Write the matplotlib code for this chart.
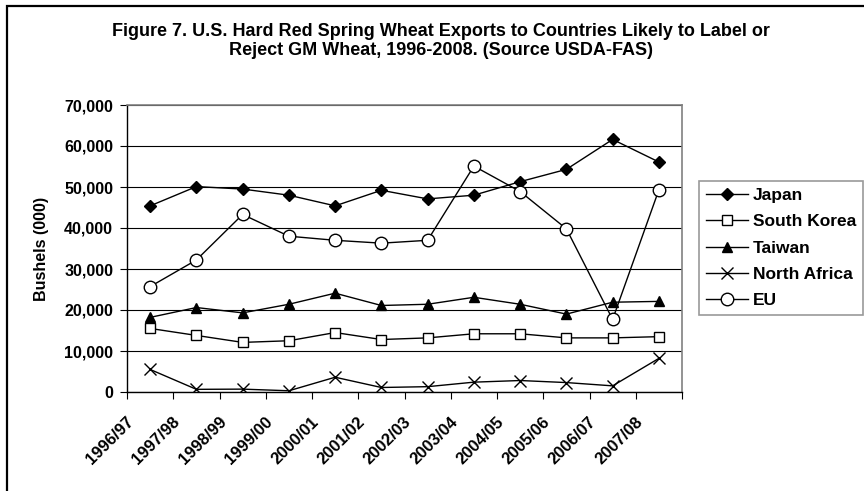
import matplotlib
matplotlib.use("Agg")
import matplotlib.pyplot as plt
from matplotlib.patches import Rectangle
from matplotlib.transforms import ScaledTranslation

plt.rcParams["font.family"] = ["Liberation Sans", "DejaVu Sans"]
plt.rcParams["font.weight"] = "bold"

years = ["1996/97", "1997/98", "1998/99", "1999/00", "2000/01", "2001/02",
         "2002/03", "2003/04", "2004/05", "2005/06", "2006/07", "2007/08"]

japan = [45400, 50100, 49500, 48000, 45400, 49200, 47100, 48000, 51300, 54300, 61600, 56100]
south_korea = [15500, 13800, 12100, 12500, 14500, 12800, 13200, 14200, 14200, 13200, 13200, 13500]
taiwan = [18200, 20600, 19300, 21400, 24100, 21100, 21400, 23100, 21400, 19000, 21900, 22100]
north_africa = [5500, 650, 700, 300, 3600, 1100, 1300, 2400, 2800, 2300, 1500, 8200]
eu = [25700, 32200, 43300, 38000, 37000, 36300, 37000, 55100, 48900, 39800, 17700, 49300]

fig = plt.figure(figsize=(8.64, 4.91), dpi=100)
ax = fig.add_axes([127 / 864, 99 / 491, 555 / 864, 287 / 491])

# outer chart border (cut off at right and bottom)
fig.patches.append(Rectangle((7 / 864, -0.1), 1.2, (491 - 6) / 491 + 0.1,
                             transform=fig.transFigure, fill=False,
                             edgecolor="black", linewidth=1.6))

x = [i + 0.5 for i in range(len(years))]
lw = 1.0
ax.plot(x, japan, color="black", lw=lw, marker="D", ms=6, mfc="black", label="Japan")
ax.plot(x, south_korea, color="black", lw=lw, marker="s", ms=7, mfc="white", mew=1, label="South Korea")
ax.plot(x, taiwan, color="black", lw=lw, marker="^", ms=7.5, mfc="black", label="Taiwan")
ax.plot(x, north_africa, color="black", lw=lw, marker="x", ms=8, mew=1, label="North Africa")
ax.plot(x, eu, color="black", lw=lw, marker="o", ms=9, mfc="white", mew=1, label="EU")

ax.set_xlim(0, 12)
ax.set_ylim(0, 70000)
ax.set_yticks(range(0, 70001, 10000))
ax.set_yticklabels([f"{v:,}" for v in range(0, 70001, 10000)], fontsize=11.5, fontweight="bold")
ax.yaxis.grid(True, color="black", lw=0.8)
ax.set_axisbelow(True)

ax.set_xticks(range(13))
ax.set_xticklabels([])
ax.set_xticks(x, minor=True)
ax.set_xticklabels(years, minor=True, rotation=45, ha="right", va="top",
                   rotation_mode="anchor", fontsize=12, fontweight="bold")
ax.tick_params(axis="x", which="minor", length=0, pad=0)
ax.tick_params(axis="x", which="major", length=5, width=0.8, direction="out")
ax.tick_params(axis="y", length=5, width=0.8, direction="out", pad=5)
offset = ScaledTranslation(-0.24, -0.22, fig.dpi_scale_trans)
for lab in ax.get_xticklabels(minor=True):
    lab.set_transform(lab.get_transform() + offset)

for side in ["top", "right"]:
    ax.spines[side].set_color("#808080")
    ax.spines[side].set_linewidth(1.2)
for side in ["left", "bottom"]:
    ax.spines[side].set_color("black")
    ax.spines[side].set_linewidth(1.0)

ax.set_ylabel("Bushels (000)", fontsize=11.5, fontweight="bold", labelpad=11)

fig.text(441 / 864, 1 - 31 / 491,
         "Figure 7. U.S. Hard Red Spring Wheat Exports to Countries Likely to Label or",
         ha="center", va="center", fontsize=13, fontweight="bold")
fig.text(441 / 864, 1 - 50 / 491,
         "Reject GM Wheat, 1996-2008. (Source USDA-FAS)",
         ha="center", va="center", fontsize=13, fontweight="bold")

leg = ax.legend(loc="upper left", bbox_to_anchor=(699 / 864, 1 - 181 / 491),
                bbox_transform=fig.transFigure, frameon=True, fancybox=False,
                prop={"size": 12.5, "weight": "bold"}, handlelength=2.4,
                handletextpad=0.3, labelspacing=0.64, borderaxespad=0,
                borderpad=0.4)
leg.get_frame().set_edgecolor("#808080")
leg.get_frame().set_linewidth(1.2)

fig.savefig("out.png", dpi=100)
